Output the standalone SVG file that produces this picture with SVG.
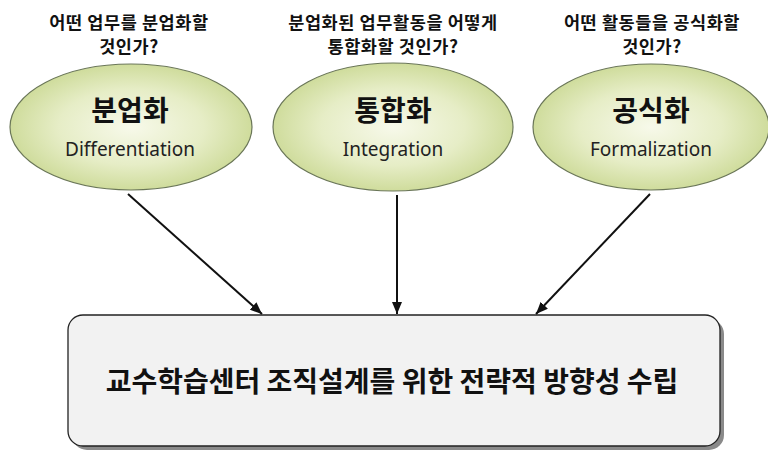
<svg xmlns="http://www.w3.org/2000/svg" width="768" height="450" viewBox="0 0 768 450">
<defs>
<radialGradient id="eg" cx="50%" cy="50%" r="50%">
<stop offset="0" stop-color="#f7f9ea"/>
<stop offset="0.6" stop-color="#e6edc6"/>
<stop offset="1" stop-color="#cfdc9c"/>
</radialGradient>
<marker id="ah" viewBox="0 0 12 10" refX="12" refY="5" markerWidth="12" markerHeight="10" orient="auto" markerUnits="userSpaceOnUse">
<path d="M0,0 L12,5 L0,10 z" fill="#111"/>
</marker>
<style>
.q{font-family:"Noto Sans CJK KR","Noto Sans",sans-serif;font-weight:bold;font-size:17.5px;letter-spacing:0.6px;fill:#111;text-anchor:middle}
.t{font-family:"Noto Sans CJK KR",sans-serif;font-weight:bold;font-size:28px;fill:#111;text-anchor:middle}
.e{font-family:"Noto Sans","Open Sans",sans-serif;font-size:19px;fill:#222;text-anchor:middle}
.el{fill:url(#eg);stroke:#6a7658;stroke-width:1.2}
.c{stroke:#111;stroke-width:2;fill:none}
.m{font-family:"Noto Sans CJK KR",sans-serif;font-weight:bold;font-size:28px;fill:#111;text-anchor:middle}
</style>
</defs>
<rect width="768" height="450" fill="#fff"/>
<g id="q1"><text class="q" x="129" y="29">어떤 업무를 분업화할</text><text class="q" x="129" y="53">것인가?</text></g>
<g id="q2"><text class="q" x="393" y="29">분업화된 업무활동을 어떻게</text><text class="q" x="393" y="53">통합화할 것인가?</text></g>
<g id="q3"><text class="q" x="652" y="29">어떤 활동들을 공식화할</text><text class="q" x="652" y="53">것인가?</text></g>
<g id="n1"><ellipse class="el" cx="131" cy="127" rx="121" ry="63"/><text class="t" x="130" y="121">분업화</text><text class="e" x="130" y="156">Differentiation</text></g>
<g id="n2"><ellipse class="el" cx="393" cy="127" rx="120" ry="64"/><text class="t" x="393" y="121">통합화</text><text class="e" x="393" y="156">Integration</text></g>
<g id="n3"><ellipse class="el" cx="651" cy="127" rx="118" ry="63"/><text class="t" x="651" y="121">공식화</text><text class="e" x="651" y="156">Formalization</text></g>
<g id="n4">
<rect x="72" y="319" width="652" height="131" rx="15" fill="#8a8a8a"/>
<rect x="68" y="315" width="652" height="131" rx="15" fill="#f2f2f2" stroke="#222" stroke-width="1.3"/>
<text class="m" x="392" y="392">교수학습센터 조직설계를 위한 전략적 방향성 수립</text>
</g>
<g id="connectors">
<line class="c" x1="128" y1="194" x2="262" y2="314" marker-end="url(#ah)"/>
<line class="c" x1="397" y1="195" x2="397" y2="314" marker-end="url(#ah)"/>
<line class="c" x1="650" y1="194" x2="536" y2="314" marker-end="url(#ah)"/>
</g>
</svg>
